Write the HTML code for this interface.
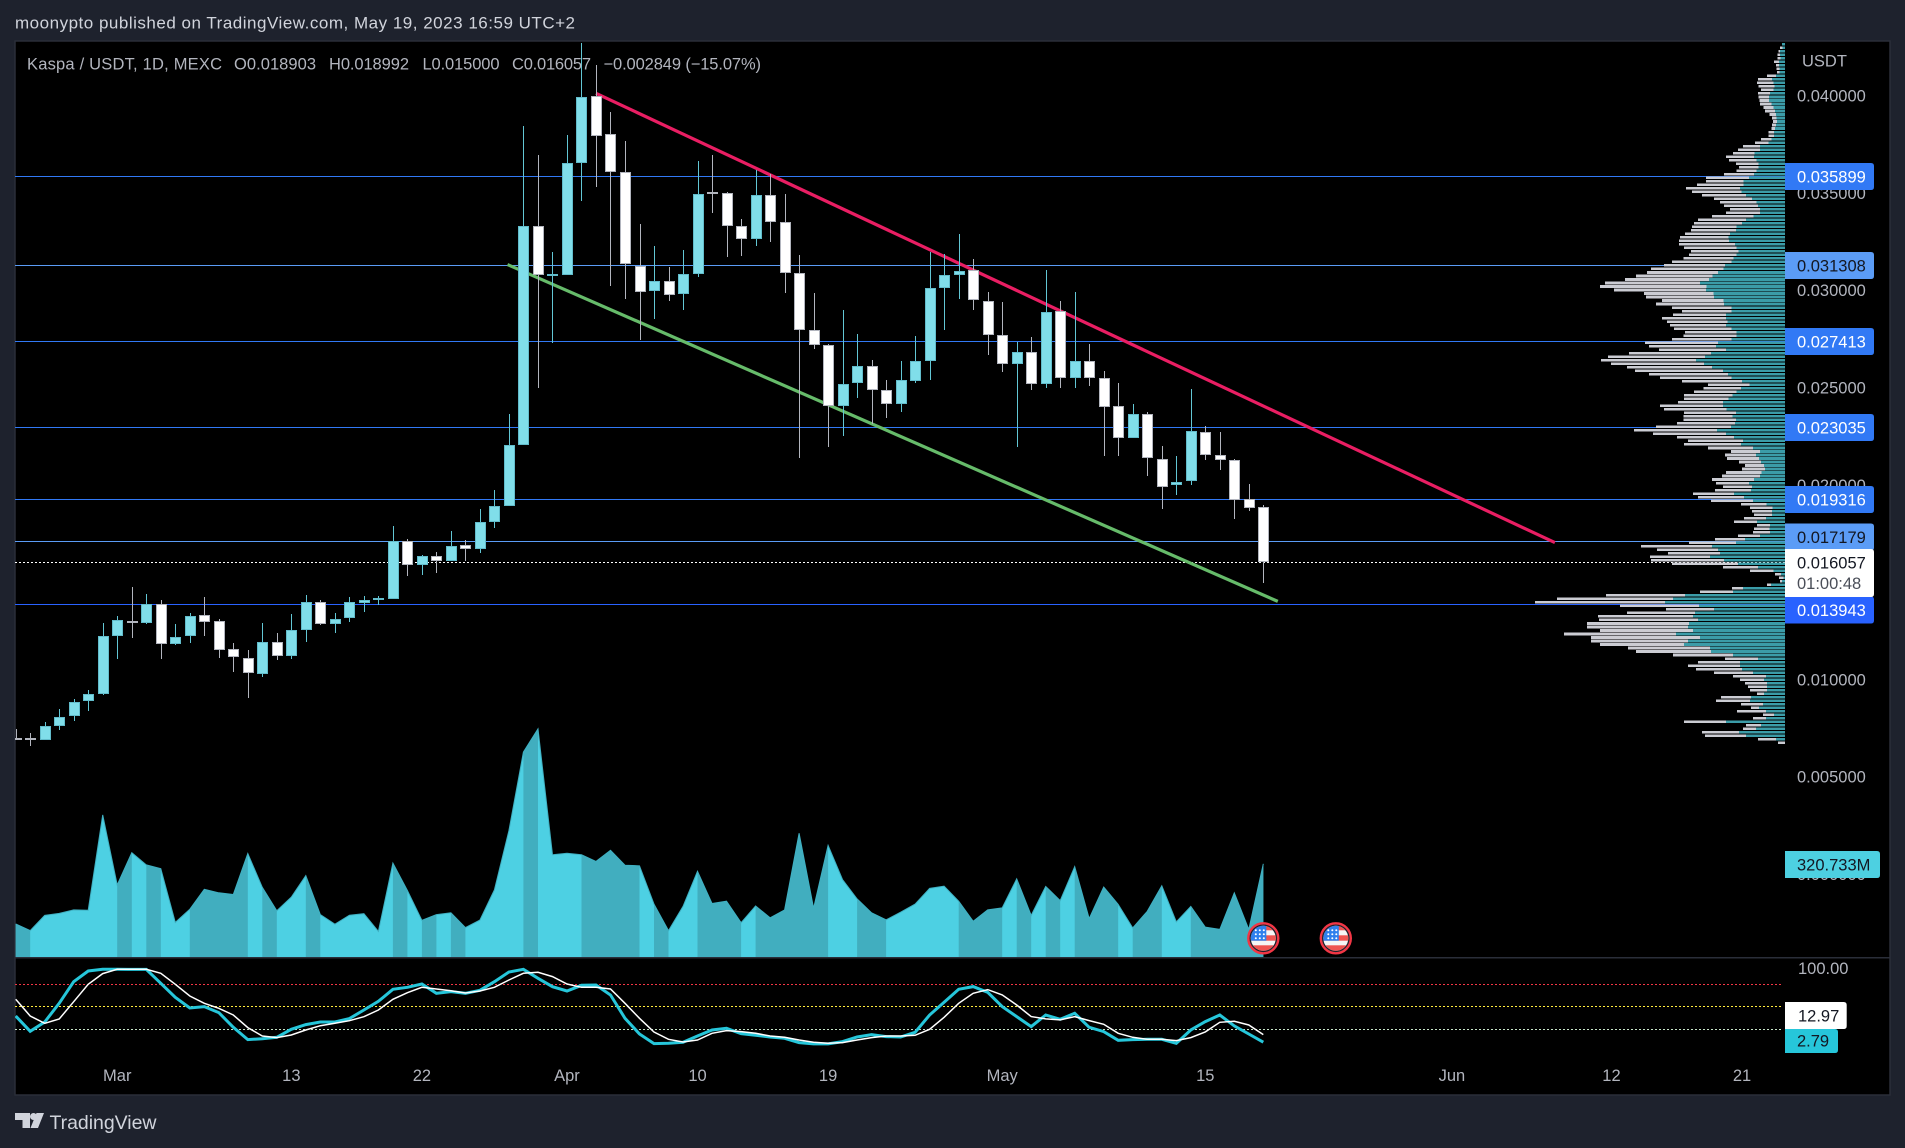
<!DOCTYPE html>
<html lang="en">
<head>
<meta charset="utf-8">
<title>Kaspa / USDT 1D chart</title>
<style>
html,body{margin:0;padding:0;background:#1e222d;overflow:hidden;width:1905px;height:1148px}
svg{display:block;font-family:"Liberation Sans",sans-serif}
</style>
</head>
<body>
<svg id="chart" xmlns="http://www.w3.org/2000/svg" width="1905" height="1148" viewBox="0 0 1905 1148">
  <defs>
    <clipPath id="plot-clip"><rect x="15" y="41" width="1875" height="1054"/></clipPath>
    <clipPath id="flag-clip"><circle cx="0" cy="0" r="12.5"/></clipPath>
  </defs>
  <rect x="0" y="0" width="1905" height="1148" fill="#1e222d"/>
  <text x="15" y="28.5" font-size="17" fill="#d1d4dc" textLength="560">moonypto published on TradingView.com, May 19, 2023 16:59 UTC+2</text>
  <rect x="15" y="41" width="1875" height="1054" fill="#000" stroke="#2a2e39" stroke-width="1.5"/>
  <g id="marks" clip-path="url(#plot-clip)"></g>
  <g id="axis"></g>
  <g font-size="16.5" fill="#b2b5be">
    <text x="27" y="69.5" textLength="195">Kaspa / USDT, 1D, MEXC</text>
    <text x="234" y="69.5" textLength="82">O0.018903</text>
    <text x="329" y="69.5" textLength="80">H0.018992</text>
    <text x="422.5" y="69.5" textLength="77">L0.015000</text>
    <text x="512" y="69.5" textLength="79">C0.016057</text>
    <text x="603.5" y="69.5" textLength="157.5">−0.002849 (−15.07%)</text>
  </g>
  <g fill="#d1d4dc">
    <polygon points="15,1113 30,1113 30,1128 22.5,1128 22.5,1120 15,1120"/>
    <circle cx="33.5" cy="1116.5" r="3.5"/>
    <polygon points="44,1113 38,1128 30.5,1128 36.5,1113" />
    <text x="49.5" y="1129" font-size="19.5" textLength="107">TradingView</text>
  </g>
</svg>
<script>
// ---- Chart data ----
const startDate = '2023-02-22';
const opens = [0.00702,0.00700,0.00692,0.00764,0.00815,0.00892,0.00928,0.01226,0.01305,0.01293,0.01393,0.01185,0.01226,0.01336,0.01305,0.01161,0.01115,0.01031,0.01197,0.01123,0.01257,0.01403,0.01288,0.01319,0.01396,0.01416,0.01416,0.01716,0.01591,0.01639,0.01612,0.01696,0.01673,0.01812,0.01894,0.02208,0.03335,0.03080,0.03081,0.03657,0.04003,0.03808,0.03610,0.03127,0.02999,0.03052,0.02984,0.03086,0.03507,0.03505,0.03335,0.03266,0.03494,0.03356,0.03092,0.02799,0.02721,0.02410,0.02526,0.02616,0.02490,0.02418,0.02536,0.02639,0.03016,0.03082,0.03109,0.02950,0.02773,0.02624,0.02688,0.02521,0.02898,0.02552,0.02641,0.02554,0.02410,0.02244,0.02369,0.02138,0.02002,0.02023,0.02276,0.02156,0.02131,0.01932,0.018903];
const highs = [0.00747,0.00726,0.00783,0.00849,0.00904,0.00947,0.01295,0.01331,0.01480,0.01444,0.01413,0.01286,0.01346,0.01425,0.01312,0.01189,0.01156,0.01295,0.01244,0.01338,0.01439,0.01413,0.01346,0.01425,0.01434,0.01434,0.01793,0.01727,0.01644,0.01660,0.01764,0.01721,0.01877,0.01975,0.02365,0.03849,0.03696,0.03198,0.03799,0.04273,0.04159,0.03917,0.03768,0.03345,0.03229,0.03122,0.03208,0.03665,0.03696,0.03507,0.03371,0.03623,0.03602,0.03496,0.03182,0.02987,0.02729,0.02900,0.02776,0.02646,0.02540,0.02638,0.02770,0.03199,0.03191,0.03294,0.03165,0.02996,0.02941,0.02735,0.02765,0.03109,0.02946,0.02996,0.02729,0.02586,0.02528,0.02417,0.02379,0.02205,0.02153,0.02497,0.02307,0.02276,0.02138,0.02009,0.018992];
const lows = [0.00690,0.00661,0.00690,0.00742,0.00788,0.00839,0.00921,0.01106,0.01214,0.01286,0.01106,0.01182,0.01189,0.01225,0.01112,0.01040,0.00906,0.01014,0.01101,0.01106,0.01194,0.01281,0.01240,0.01296,0.01348,0.01384,0.01415,0.01533,0.01538,0.01548,0.01610,0.01610,0.01651,0.01780,0.01892,0.02206,0.02500,0.02732,0.03080,0.03460,0.03533,0.03023,0.02956,0.02746,0.02854,0.02946,0.02900,0.03071,0.03400,0.03174,0.03179,0.03230,0.03251,0.02989,0.02141,0.02699,0.02197,0.02254,0.02448,0.02318,0.02345,0.02376,0.02525,0.02540,0.02797,0.02956,0.02900,0.02669,0.02581,0.02197,0.02489,0.02499,0.02499,0.02499,0.02509,0.02151,0.02151,0.02242,0.02047,0.01879,0.01951,0.02002,0.02131,0.02079,0.01827,0.01868,0.015000];
const closes = [0.00697,0.00694,0.00766,0.00812,0.00889,0.00930,0.01228,0.01310,0.01298,0.01393,0.01185,0.01223,0.01331,0.01298,0.01154,0.01118,0.01036,0.01197,0.01123,0.01259,0.01403,0.01288,0.01315,0.01403,0.01413,0.01420,0.01716,0.01591,0.01639,0.01612,0.01691,0.01673,0.01814,0.01896,0.02210,0.03335,0.03083,0.03087,0.03659,0.03998,0.03795,0.03610,0.03140,0.02994,0.03052,0.02978,0.03088,0.03499,0.03502,0.03333,0.03266,0.03494,0.03356,0.03092,0.02799,0.02721,0.02410,0.02523,0.02616,0.02490,0.02418,0.02544,0.02641,0.03016,0.03083,0.03104,0.02953,0.02773,0.02624,0.02688,0.02521,0.02893,0.02552,0.02641,0.02552,0.02403,0.02244,0.02369,0.02141,0.01992,0.02020,0.02282,0.02156,0.02131,0.01927,0.01884,0.016057];
const volumesM = [114,91,143,150,162,161,489,248,359,317,304,119,164,233,221,215,356,240,159,206,280,146,113,144,149,88,323,229,126,146,152,101,127,231,435,705,785,352,357,352,329,367,316,314,182,91,174,295,184,192,118,176,135,162,426,168,384,266,200,152,128,154,182,236,244,192,123,162,169,269,143,243,194,311,132,241,181,100,157,245,121,174,103,95,221,95,320.733];
const stochK = [37.7,17.3,29.7,54.6,83.5,97.7,100,100,99.9,99.9,81.3,62.6,48.4,50.2,42.2,22.6,6.2,7.5,9.3,20,26.2,29.7,29.7,34.2,45.7,57.3,73.3,76,80.4,68,70.2,68,72,83.5,96.4,100,88,76.8,71,78.6,79,65.7,34.6,13.7,0.9,1.3,2.6,11,19.1,21.3,14.2,12,9.8,8,2.2,0.5,0.5,3.6,9.8,12.9,10.2,9.8,16,39.1,56,73.3,76.9,69.3,50.2,36.9,23.6,39.1,33.3,41.3,22.7,16.9,5.3,6.2,6.7,6.7,1.3,19.1,30.2,39.1,24.5,13.8,2.79];
const stochD = [60,37.7,28,33.7,56.8,80,94.2,100,100,100,94.6,80,64.4,54.6,48,39,22.2,11,8.9,12.4,19.1,24.8,28,31.5,36.8,45.7,60,68.8,76,73.7,71.5,68.4,71,76,85.7,94.6,96,90.2,80.4,76,76,73.7,54.6,34.6,16.4,6.6,3,5.7,14.7,18.2,16.9,14.7,11.1,9.3,5.8,2.7,1.3,2.2,5.8,8.9,11.1,11.1,12,20,36,54.7,68,72.9,65.8,52.4,36.9,33.8,32.5,36.9,31.6,26.7,14.7,9.3,6.7,6.7,4.9,8.9,16.5,29.3,30.7,25.8,12.97];
const stochLevels = [80,50,20];
const profileTotal = [9,15,20,23,23,33,27,26,24,54,81,84,80,72,81,80,77,75,65,60,47,39,36,39,41,50,50,72,90,126,141,156,177,168,147,138,145,183,237,237,264,297,279,249,213,195,183,165,177,219,261,273,279,282,300,315,318,318,303,282,288,305,339,363,402,414,447,480,540,555,513,423,417,369,387,339,309,336,369,354,345,333,300,305,339,420,408,378,468,531,552,522,474,450,408,375,
309,231,245,273,303,303,321,375,363,303,305,305,324,387,453,396,324,291,303,231,162,180,174,138,120,129,177,189,219,207,186,210,276,261,222,132,105,99,93,123,153,84,93,96,141,210,288,432,384,351,405,402,339,186,105,30,18,15,54,159,255,537,684,750,495,357,474,561,558,594,594,555,663,582,582,555,471,447,336,180,261,291,267,213,156,135,120,111,105,84,192,207,132,102,144,66,96,303,117,126,249,240,81,21];
const profileUp = [9,8,15,15,13,18,18,17,17,27,39,35,32,35,45,48,48,40,35,30,27,25,24,27,30,33,33,40,50,75,75,92,93,85,80,80,85,93,108,125,125,135,131,117,99,85,81,75,75,95,117,129,145,147,165,170,168,150,145,140,145,155,161,180,185,201,217,228,255,235,237,215,213,185,183,161,161,177,177,173,177,161,145,145,161,201,207,177,222,240,267,243,219,186,171,161,
129,107,132,145,157,170,186,186,175,147,157,147,150,162,204,177,153,126,132,96,75,87,78,72,63,60,70,75,93,108,99,102,153,123,96,55,37,39,39,57,84,45,47,45,75,120,147,219,201,195,225,183,141,81,35,12,5,9,42,126,156,300,336,360,258,213,270,276,261,288,291,276,327,255,291,303,225,222,156,81,135,135,129,96,57,63,54,54,54,63,102,105,66,78,57,33,57,177,72,87,138,117,27,0];
const priceTicks = [0.04,0.035,0.03,0.025,0.02,0.01,0.005,0];
const levelPrices = [0.035899,0.031308,0.027413,0.023035,0.019316,0.017179,0.013943];
const levelColors = ['#3179f5','#5b9cf6','#3179f5','#3179f5','#3179f5','#5b9cf6','#2962ff'];
const timeTickDates = ['2023-03-01','2023-03-13','2023-03-22','2023-04-01','2023-04-10','2023-04-19','2023-05-01','2023-05-15','2023-06-01','2023-06-12','2023-06-21'];
const timeTickLabels = ['Mar','13','22','Apr','10','19','May','15','Jun','12','21'];
const eventDates = ['2023-05-19','2023-05-24'];
const resistanceBars = [40,106.1];
const resistancePrices = [0.04015,0.01706];
const supportBars = [33.9,87];
const supportPrices = [0.03135,0.01404];
const lastPrice = 0.016057;
const countdownText = '01:00:48';

// ---- Axis functions ----
const NS = 'http://www.w3.org/2000/svg';
const marks = document.getElementById('marks');
const axis = document.getElementById('axis');
const barX = k => 15.7 + k * 14.507;
const dateBar = d => Math.round((Date.parse(d) - Date.parse(startDate)) / 86400000);
const priceY = p => 777.3 - (p - 0.005) * 19460;
const levelY = p => Math.floor(778.7 - (p - 0.005) * 19494) + 0.5;
const VOL_BASE = 957;
const volY = v => VOL_BASE - v * 0.2906;
const stochY = v => 1044.3 - v * 0.75;
const PROFILE_RIGHT = 1785;
const profileWidth = v => v / 3;
const AXIS_X = 1785;

function make(parent, tag, attrs, text) {
  const el = document.createElementNS(NS, tag);
  for (const key in attrs) el.setAttribute(key, attrs[key]);
  if (text !== undefined) el.textContent = text;
  parent.appendChild(el);
  return el;
}
const pts = list => list.map(p => p[0].toFixed(1) + ',' + p[1].toFixed(1)).join(' ');

// ---- Volume area: one light area, dark runs where the day closed down ----
const volArea = make(marks, 'polygon', {
  points: pts([[barX(0),VOL_BASE]].concat(volumesM.map((v,k) => [barX(k), volY(v)]), [[barX(volumesM.length-1),VOL_BASE]])),
  fill: '#4dd0e3'
});


for (let k = 1; k < volumesM.length; k++) {
  if (closes[k] >= opens[k]) continue;
  let end = k;
  while (end + 1 < volumesM.length && closes[end+1] < opens[end+1]) end++;
  const run = [[barX(k-1),VOL_BASE]];
  for (let j = k - 1; j <= end; j++) run.push([barX(j), volY(volumesM[j])]);
  run.push([barX(end),VOL_BASE]);
  const seg = make(marks, 'polygon', {points: pts(run), fill: '#41aebf'});
  
  
  k = end;
}
const volEdge = make(marks, 'polyline', {
  points: pts(volumesM.map((v,k) => [barX(k), volY(v)])),
  fill: 'none', stroke: '#3fb0c2', 'stroke-width': 1
});



// ---- Pane separator ----
const sep = make(marks, 'rect', {x:15, y:957, width:1875, height:1.5, fill:'#2a2e39'});



// ---- Horizontal levels ----
levelPrices.forEach((p,i) => {
  const y = levelY(p);
  const line = make(marks, 'line', {x1:15, x2:AXIS_X, y1:y, y2:y, stroke:levelColors[i], 'stroke-width':1});
  
  
});
const lastY = Math.floor(priceY(lastPrice)) + 0.5;
const lastLine = make(marks, 'line', {x1:15, x2:AXIS_X, y1:lastY, y2:lastY, stroke:'#ffffff', 'stroke-width':1, 'stroke-dasharray':'2 2'});



// ---- Volume profile ----
const profileTop = 43;
const profileRowPx = 3.51;
const profileTopPrice = 0.005 + (777.3 - profileTop) / 19460;
const profileBin = profileRowPx / 19460;
profileTotal.forEach((total,n) => {
  const y = priceY(profileTopPrice - n * profileBin);
  const up = profileUp[n];
  const grey = make(marks, 'rect', {x:PROFILE_RIGHT-profileWidth(total), y:y, width:profileWidth(total-up), height:2.6, fill:'#cbccd3', 'shape-rendering':'crispEdges'});
  
  
  const teal = make(marks, 'rect', {x:PROFILE_RIGHT-profileWidth(up), y:y, width:profileWidth(up), height:2.6, fill:'#3b9ca8', 'shape-rendering':'crispEdges'});
  
  
});

// ---- Trend lines ----
const resistance = make(marks, 'line', {x1:barX(resistanceBars[0]), y1:priceY(resistancePrices[0]), x2:barX(resistanceBars[1]), y2:priceY(resistancePrices[1]), stroke:'#e91e63', 'stroke-width':3.2});


const support = make(marks, 'line', {x1:barX(supportBars[0]), y1:priceY(supportPrices[0]), x2:barX(supportBars[1]), y2:priceY(supportPrices[1]), stroke:'#66bb6a', 'stroke-width':3.2});



// ---- Candles ----
opens.forEach((o,k) => {
  const c = closes[k];
  const up = c >= o;
  const cx = Math.round(barX(k));
  const wickCol = up ? '#62c6d4' : '#b2b5be';
  const borderCol = up ? '#62bccb' : '#b2b5be';
  const fillCol = up ? '#80deea' : '#ffffff';
  const yTop = Math.round(priceY(Math.max(o,c)));
  const yBot = Math.round(priceY(Math.min(o,c)));
  const bodyH = Math.max(2, yBot - yTop);
  const yHigh = Math.round(priceY(highs[k]));
  const yLow = Math.round(priceY(lows[k]));
  const wick = make(marks, 'rect', {x:cx, y:yHigh, width:1, height:Math.max(1,yLow-yHigh), fill:wickCol, 'shape-rendering':'crispEdges'});
  
  
  const body = make(marks, 'rect', {x:cx-5, y:yTop, width:11, height:bodyH, fill:borderCol, 'shape-rendering':'crispEdges'});
  
  
  if (bodyH > 2) {
    const inner = make(marks, 'rect', {x:cx-4, y:yTop+1, width:9, height:bodyH-2, fill:fillCol, 'shape-rendering':'crispEdges'});
    
    
  }
});

// ---- Stochastic RSI pane ----
const levelStyles = ['#f23645','#ffeb3b','#c8e6c9'];
stochLevels.forEach((v,i) => {
  const y = Math.floor(stochY(v)) + 0.5;
  const line = make(marks, 'line', {x1:15, x2:1783, y1:y, y2:y, stroke:levelStyles[i], 'stroke-width':1, 'stroke-dasharray':'2 2'});
  
  
});
const kLine = make(marks, 'polyline', {points:pts(stochK.map((v,k)=>[barX(k),stochY(v)])), fill:'none', stroke:'#26c6da', 'stroke-width':3});


const dLine = make(marks, 'polyline', {points:pts(stochD.map((v,k)=>[barX(k),stochY(v)])), fill:'none', stroke:'#ffffff', 'stroke-width':1.5});



// ---- Economic event flags ----
eventDates.forEach(d => {
  const g = make(marks, 'g', {transform:'translate(' + barX(dateBar(d)).toFixed(1) + ',938.3)'});
  
  
  make(g, 'circle', {r:15, fill:'#1e222d', stroke:'#f23645', 'stroke-width':2.4});
  const f = make(g, 'g', {'clip-path':'url(#flag-clip)'});
  make(f, 'rect', {x:-13, y:-13, width:26, height:26, fill:'#f5f5f5'});
  make(f, 'rect', {x:-13, y:-13, width:26, height:5, fill:'#ef5350'});
  make(f, 'rect', {x:-13, y:-3, width:26, height:5.4, fill:'#ef5350'});
  make(f, 'rect', {x:-13, y:7, width:26, height:6, fill:'#ef5350'});
  make(f, 'rect', {x:-13, y:-13, width:16, height:15.4, fill:'#2f80ed'});
  for (let r = 0; r < 3; r++) for (let c = 0; c < 3; c++) {
    make(f, 'circle', {cx:-7.5 + c*4, cy:-8 + r*4, r:1, fill:'#ffffff'});
  }
});

// ---- Price axis ----
const AXIS_FONT = 16.5;
function axisText(x, y, str, fill, name, anchor) {
  const t = make(axis, 'text', {x:x, y:y+6, 'font-size':AXIS_FONT, fill:fill, 'text-anchor':anchor||'start'}, str);
  
  
  return t;
}
axisText(1802, 60.7, 'USDT', '#b2b5be', 'price-axis-currency');
priceTicks.forEach(p => {
  axisText(1797, priceY(p) - 0.6, p.toFixed(6), '#b2b5be', 'price-axis-tick');
});
function badge(x, y, w, h, fill, name) {
  const r = make(axis, 'path', {d:'M'+x+' '+y+'h'+(w-3)+'q3 0 3 3v'+(h-6)+'q0 3 -3 3h-'+(w-3)+'z', fill:fill});
  
  
}
const badgeShift = {0.017179:-4.5, 0.013943:5.5};
levelPrices.forEach((p,i) => {
  const cy = levelY(p) + (badgeShift[p] || 0);
  const light = levelColors[i] === '#5b9cf6';
  badge(AXIS_X, cy-13.5, 89, 27, levelColors[i], 'level-price-badge');
  axisText(1797, cy, p.toFixed(6), light ? '#131722' : '#ffffff', 'level-price-label');
});
badge(AXIS_X, 549, 89, 48, '#ffffff', 'last-price-badge');
axisText(1797, 562.7, lastPrice.toFixed(6), '#131722', 'last-price-label');
axisText(1797, 583, countdownText, '#4a4e58', 'bar-countdown-label');

// Volume and oscillator value tags
badge(AXIS_X, 851, 95, 27, '#4dd0e1', 'volume-value-badge');
axisText(1797, 864.5, volumesM[volumesM.length-1].toFixed(3) + 'M', '#131722', 'volume-value-label');
axisText(1798, 968, (100).toFixed(2), '#b2b5be', 'stoch-axis-tick');
badge(AXIS_X, 1029, 53, 24, '#26c6da', 'stoch-k-badge');
axisText(1797, 1040.5, stochK[stochK.length-1].toFixed(2), '#131722', 'stoch-k-label');
badge(AXIS_X, 1002, 61.7, 27, '#ffffff', 'stoch-d-badge');
axisText(1798, 1015.7, stochD[stochD.length-1].toFixed(2), '#131722', 'stoch-d-label');

// ---- Time axis ----
timeTickDates.forEach((d,i) => {
  axisText(barX(dateBar(d)), 1075, timeTickLabels[i], '#b2b5be', 'time-axis-tick', 'middle');
});
</script>
</body>
</html>
